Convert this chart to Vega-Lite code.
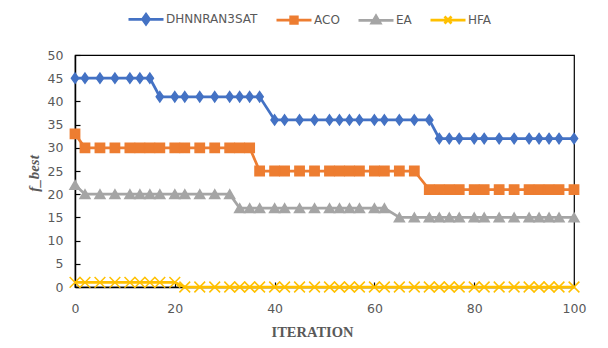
{
  "$schema": "https://vega.github.io/schema/vega-lite/v6.json",
  "width": 499,
  "height": 232,
  "autosize": "none",
  "padding": {"left": 75, "top": 55, "right": 34, "bottom": 61},
  "background": "white",
  "config": {
    "view": {"stroke": "#000", "strokeWidth": 1.2},
    "axis": {
      "grid": false,
      "domainColor": "#000",
      "domainWidth": 1.5,
      "tickColor": "#000",
      "tickWidth": 1.2,
      "tickSize": -5,
      "labelFont": "DejaVu Sans",
      "labelFontSize": 12.5,
      "labelColor": "#595959",
      "titleFont": "Liberation Serif",
      "titleFontWeight": "bold",
      "titleColor": "#595959"
    }
  },
  "data": {
    "values": [
      {"series": "DHNNRAN3SAT", "x": 0, "y": 45}, {"series": "DHNNRAN3SAT", "x": 2, "y": 45}, {"series": "DHNNRAN3SAT", "x": 5, "y": 45}, {"series": "DHNNRAN3SAT", "x": 8, "y": 45}, {"series": "DHNNRAN3SAT", "x": 11, "y": 45}, {"series": "DHNNRAN3SAT", "x": 13, "y": 45}, {"series": "DHNNRAN3SAT", "x": 15, "y": 45}, {"series": "DHNNRAN3SAT", "x": 17, "y": 41}, {"series": "DHNNRAN3SAT", "x": 20, "y": 41}, {"series": "DHNNRAN3SAT", "x": 22, "y": 41}, {"series": "DHNNRAN3SAT", "x": 25, "y": 41}, {"series": "DHNNRAN3SAT", "x": 28, "y": 41}, {"series": "DHNNRAN3SAT", "x": 31, "y": 41}, {"series": "DHNNRAN3SAT", "x": 33, "y": 41}, {"series": "DHNNRAN3SAT", "x": 35, "y": 41}, {"series": "DHNNRAN3SAT", "x": 37, "y": 41}, {"series": "DHNNRAN3SAT", "x": 40, "y": 36}, {"series": "DHNNRAN3SAT", "x": 42, "y": 36}, {"series": "DHNNRAN3SAT", "x": 45, "y": 36}, {"series": "DHNNRAN3SAT", "x": 48, "y": 36}, {"series": "DHNNRAN3SAT", "x": 51, "y": 36}, {"series": "DHNNRAN3SAT", "x": 53, "y": 36}, {"series": "DHNNRAN3SAT", "x": 55, "y": 36}, {"series": "DHNNRAN3SAT", "x": 57, "y": 36}, {"series": "DHNNRAN3SAT", "x": 60, "y": 36}, {"series": "DHNNRAN3SAT", "x": 62, "y": 36}, {"series": "DHNNRAN3SAT", "x": 65, "y": 36}, {"series": "DHNNRAN3SAT", "x": 68, "y": 36}, {"series": "DHNNRAN3SAT", "x": 71, "y": 36}, {"series": "DHNNRAN3SAT", "x": 73, "y": 32}, {"series": "DHNNRAN3SAT", "x": 75, "y": 32}, {"series": "DHNNRAN3SAT", "x": 77, "y": 32}, {"series": "DHNNRAN3SAT", "x": 80, "y": 32}, {"series": "DHNNRAN3SAT", "x": 82, "y": 32}, {"series": "DHNNRAN3SAT", "x": 85, "y": 32}, {"series": "DHNNRAN3SAT", "x": 88, "y": 32}, {"series": "DHNNRAN3SAT", "x": 91, "y": 32}, {"series": "DHNNRAN3SAT", "x": 93, "y": 32}, {"series": "DHNNRAN3SAT", "x": 95, "y": 32}, {"series": "DHNNRAN3SAT", "x": 97, "y": 32}, {"series": "DHNNRAN3SAT", "x": 100, "y": 32},
      {"series": "ACO", "x": 0, "y": 33}, {"series": "ACO", "x": 2, "y": 30}, {"series": "ACO", "x": 5, "y": 30}, {"series": "ACO", "x": 8, "y": 30}, {"series": "ACO", "x": 11, "y": 30}, {"series": "ACO", "x": 13, "y": 30}, {"series": "ACO", "x": 15, "y": 30}, {"series": "ACO", "x": 17, "y": 30}, {"series": "ACO", "x": 20, "y": 30}, {"series": "ACO", "x": 22, "y": 30}, {"series": "ACO", "x": 25, "y": 30}, {"series": "ACO", "x": 28, "y": 30}, {"series": "ACO", "x": 31, "y": 30}, {"series": "ACO", "x": 33, "y": 30}, {"series": "ACO", "x": 35, "y": 30}, {"series": "ACO", "x": 37, "y": 25}, {"series": "ACO", "x": 40, "y": 25}, {"series": "ACO", "x": 42, "y": 25}, {"series": "ACO", "x": 45, "y": 25}, {"series": "ACO", "x": 48, "y": 25}, {"series": "ACO", "x": 51, "y": 25}, {"series": "ACO", "x": 53, "y": 25}, {"series": "ACO", "x": 55, "y": 25}, {"series": "ACO", "x": 57, "y": 25}, {"series": "ACO", "x": 60, "y": 25}, {"series": "ACO", "x": 62, "y": 25}, {"series": "ACO", "x": 65, "y": 25}, {"series": "ACO", "x": 68, "y": 25}, {"series": "ACO", "x": 71, "y": 21}, {"series": "ACO", "x": 73, "y": 21}, {"series": "ACO", "x": 75, "y": 21}, {"series": "ACO", "x": 77, "y": 21}, {"series": "ACO", "x": 80, "y": 21}, {"series": "ACO", "x": 82, "y": 21}, {"series": "ACO", "x": 85, "y": 21}, {"series": "ACO", "x": 88, "y": 21}, {"series": "ACO", "x": 91, "y": 21}, {"series": "ACO", "x": 93, "y": 21}, {"series": "ACO", "x": 95, "y": 21}, {"series": "ACO", "x": 97, "y": 21}, {"series": "ACO", "x": 100, "y": 21},
      {"series": "EA", "x": 0, "y": 22}, {"series": "EA", "x": 2, "y": 20}, {"series": "EA", "x": 5, "y": 20}, {"series": "EA", "x": 8, "y": 20}, {"series": "EA", "x": 11, "y": 20}, {"series": "EA", "x": 13, "y": 20}, {"series": "EA", "x": 15, "y": 20}, {"series": "EA", "x": 17, "y": 20}, {"series": "EA", "x": 20, "y": 20}, {"series": "EA", "x": 22, "y": 20}, {"series": "EA", "x": 25, "y": 20}, {"series": "EA", "x": 28, "y": 20}, {"series": "EA", "x": 31, "y": 20}, {"series": "EA", "x": 33, "y": 17}, {"series": "EA", "x": 35, "y": 17}, {"series": "EA", "x": 37, "y": 17}, {"series": "EA", "x": 40, "y": 17}, {"series": "EA", "x": 42, "y": 17}, {"series": "EA", "x": 45, "y": 17}, {"series": "EA", "x": 48, "y": 17}, {"series": "EA", "x": 51, "y": 17}, {"series": "EA", "x": 53, "y": 17}, {"series": "EA", "x": 55, "y": 17}, {"series": "EA", "x": 57, "y": 17}, {"series": "EA", "x": 60, "y": 17}, {"series": "EA", "x": 62, "y": 17}, {"series": "EA", "x": 65, "y": 15}, {"series": "EA", "x": 68, "y": 15}, {"series": "EA", "x": 71, "y": 15}, {"series": "EA", "x": 73, "y": 15}, {"series": "EA", "x": 75, "y": 15}, {"series": "EA", "x": 77, "y": 15}, {"series": "EA", "x": 80, "y": 15}, {"series": "EA", "x": 82, "y": 15}, {"series": "EA", "x": 85, "y": 15}, {"series": "EA", "x": 88, "y": 15}, {"series": "EA", "x": 91, "y": 15}, {"series": "EA", "x": 93, "y": 15}, {"series": "EA", "x": 95, "y": 15}, {"series": "EA", "x": 97, "y": 15}, {"series": "EA", "x": 100, "y": 15},
      {"series": "HFA", "x": 0, "y": 1}, {"series": "HFA", "x": 2, "y": 1}, {"series": "HFA", "x": 5, "y": 1}, {"series": "HFA", "x": 8, "y": 1}, {"series": "HFA", "x": 11, "y": 1}, {"series": "HFA", "x": 13, "y": 1}, {"series": "HFA", "x": 15, "y": 1}, {"series": "HFA", "x": 17, "y": 1}, {"series": "HFA", "x": 20, "y": 1}, {"series": "HFA", "x": 22, "y": 0}, {"series": "HFA", "x": 25, "y": 0}, {"series": "HFA", "x": 28, "y": 0}, {"series": "HFA", "x": 31, "y": 0}, {"series": "HFA", "x": 33, "y": 0}, {"series": "HFA", "x": 35, "y": 0}, {"series": "HFA", "x": 37, "y": 0}, {"series": "HFA", "x": 40, "y": 0}, {"series": "HFA", "x": 42, "y": 0}, {"series": "HFA", "x": 45, "y": 0}, {"series": "HFA", "x": 48, "y": 0}, {"series": "HFA", "x": 51, "y": 0}, {"series": "HFA", "x": 53, "y": 0}, {"series": "HFA", "x": 55, "y": 0}, {"series": "HFA", "x": 57, "y": 0}, {"series": "HFA", "x": 60, "y": 0}, {"series": "HFA", "x": 62, "y": 0}, {"series": "HFA", "x": 65, "y": 0}, {"series": "HFA", "x": 68, "y": 0}, {"series": "HFA", "x": 71, "y": 0}, {"series": "HFA", "x": 73, "y": 0}, {"series": "HFA", "x": 75, "y": 0}, {"series": "HFA", "x": 77, "y": 0}, {"series": "HFA", "x": 80, "y": 0}, {"series": "HFA", "x": 82, "y": 0}, {"series": "HFA", "x": 85, "y": 0}, {"series": "HFA", "x": 88, "y": 0}, {"series": "HFA", "x": 91, "y": 0}, {"series": "HFA", "x": 93, "y": 0}, {"series": "HFA", "x": 95, "y": 0}, {"series": "HFA", "x": 97, "y": 0}, {"series": "HFA", "x": 100, "y": 0}
    ]
  },
  "encoding": {
    "x": {
      "field": "x",
      "type": "quantitative",
      "scale": {"domain": [0, 100], "nice": false},
      "axis": {
        "values": [0, 20, 40, 60, 80, 100],
        "title": "ITERATION",
        "labelPadding": 20,
        "labelFlush": false,
        "titleFontSize": 14.5,
        "titleX": 237,
        "titleY": 45,
        "titleAlign": "center",
        "titleBaseline": "middle"
      }
    },
    "y": {
      "field": "y",
      "type": "quantitative",
      "scale": {"domain": [0, 50], "nice": false},
      "axis": {
        "values": [0, 5, 10, 15, 20, 25, 30, 35, 40, 45, 50],
        "title": "f_best",
        "labelPadding": 17,
        "titleFontSize": 15,
        "titleFontStyle": "italic",
        "titleX": -34,
        "titleY": 118,
        "titleAlign": "center"
      }
    }
  },
  "resolve": {"legend": {"color": "independent"}},
  "layer": [
    {
      "mark": {"type": "line", "strokeWidth": 2.75},
      "encoding": {
        "color": {
          "field": "series",
          "type": "nominal",
          "scale": {"domain": ["DHNNRAN3SAT", "ACO", "EA", "HFA"], "range": ["#4472C4", "#ED7D31", "#A5A5A5", "#FFC000"]},
          "legend": {
            "orient": "none",
            "legendX": 52,
            "legendY": -55,
            "direction": "horizontal",
            "title": null,
            "padding": 0,
            "symbolSize": 1225,
            "symbolStrokeWidth": 2.75,
            "labelOffset": 1,
            "columnPadding": 13,
            "labelFont": "DejaVu Sans",
            "labelFontSize": 12,
            "labelColor": "#595959",
            "encode": {
              "symbols": {
                "update": {
                  "shape": {"signal": "datum.value === 'DHNNRAN3SAT' ? 'M-1,0H1M0,-0.28L0.2,0L0,0.28L-0.2,0Z' : datum.value === 'ACO' ? 'M-1,0H1M-0.19,-0.19H0.19V0.19H-0.19Z' : datum.value === 'EA' ? 'M-1,0H1M0,-0.24L0.24,0.17H-0.24Z' : 'M-1,0H1M-0.2,-0.2L0.2,0.2M-0.2,0.2L0.2,-0.2'"},
                  "fill": {"signal": "datum.value === 'DHNNRAN3SAT' ? '#4472C4' : datum.value === 'ACO' ? '#ED7D31' : datum.value === 'EA' ? '#A5A5A5' : '#FFC000'"},
                  "stroke": {"signal": "datum.value === 'DHNNRAN3SAT' ? '#4472C4' : datum.value === 'ACO' ? '#ED7D31' : datum.value === 'EA' ? '#A5A5A5' : '#FFC000'"},
                  "strokeWidth": {"value": 2.75},
                  "size": {"value": 1225},
                  "opacity": {"value": 1}
                }
              }
            }
          }
        }
      }
    },
    {
      "mark": {"type": "point", "filled": true, "opacity": 1, "strokeWidth": 1.5},
      "encoding": {
        "color": {
          "field": "series",
          "type": "nominal",
          "scale": {"domain": ["DHNNRAN3SAT", "ACO", "EA", "HFA"], "range": ["#4472C4", "#ED7D31", "#A5A5A5", "#FFC000"]},
          "legend": null
        },
        "stroke": {
          "field": "series",
          "type": "nominal",
          "scale": {"domain": ["DHNNRAN3SAT", "ACO", "EA", "HFA"], "range": ["#4472C4", "#ED7D31", "#A5A5A5", "#FFC000"]},
          "legend": null
        },
        "shape": {
          "field": "series",
          "type": "nominal",
          "scale": {"domain": ["DHNNRAN3SAT", "ACO", "EA", "HFA"], "range": ["M0,-1.2L0.85,0L0,1.2L-0.85,0Z", "square", "triangle-up", "M-1,-1L1,1M-1,1L1,-1"]},
          "legend": null
        },
        "size": {
          "field": "series",
          "type": "nominal",
          "scale": {"domain": ["DHNNRAN3SAT", "ACO", "EA", "HFA"], "range": [72, 115, 95, 64]},
          "legend": null
        }
      }
    }
  ]
}
